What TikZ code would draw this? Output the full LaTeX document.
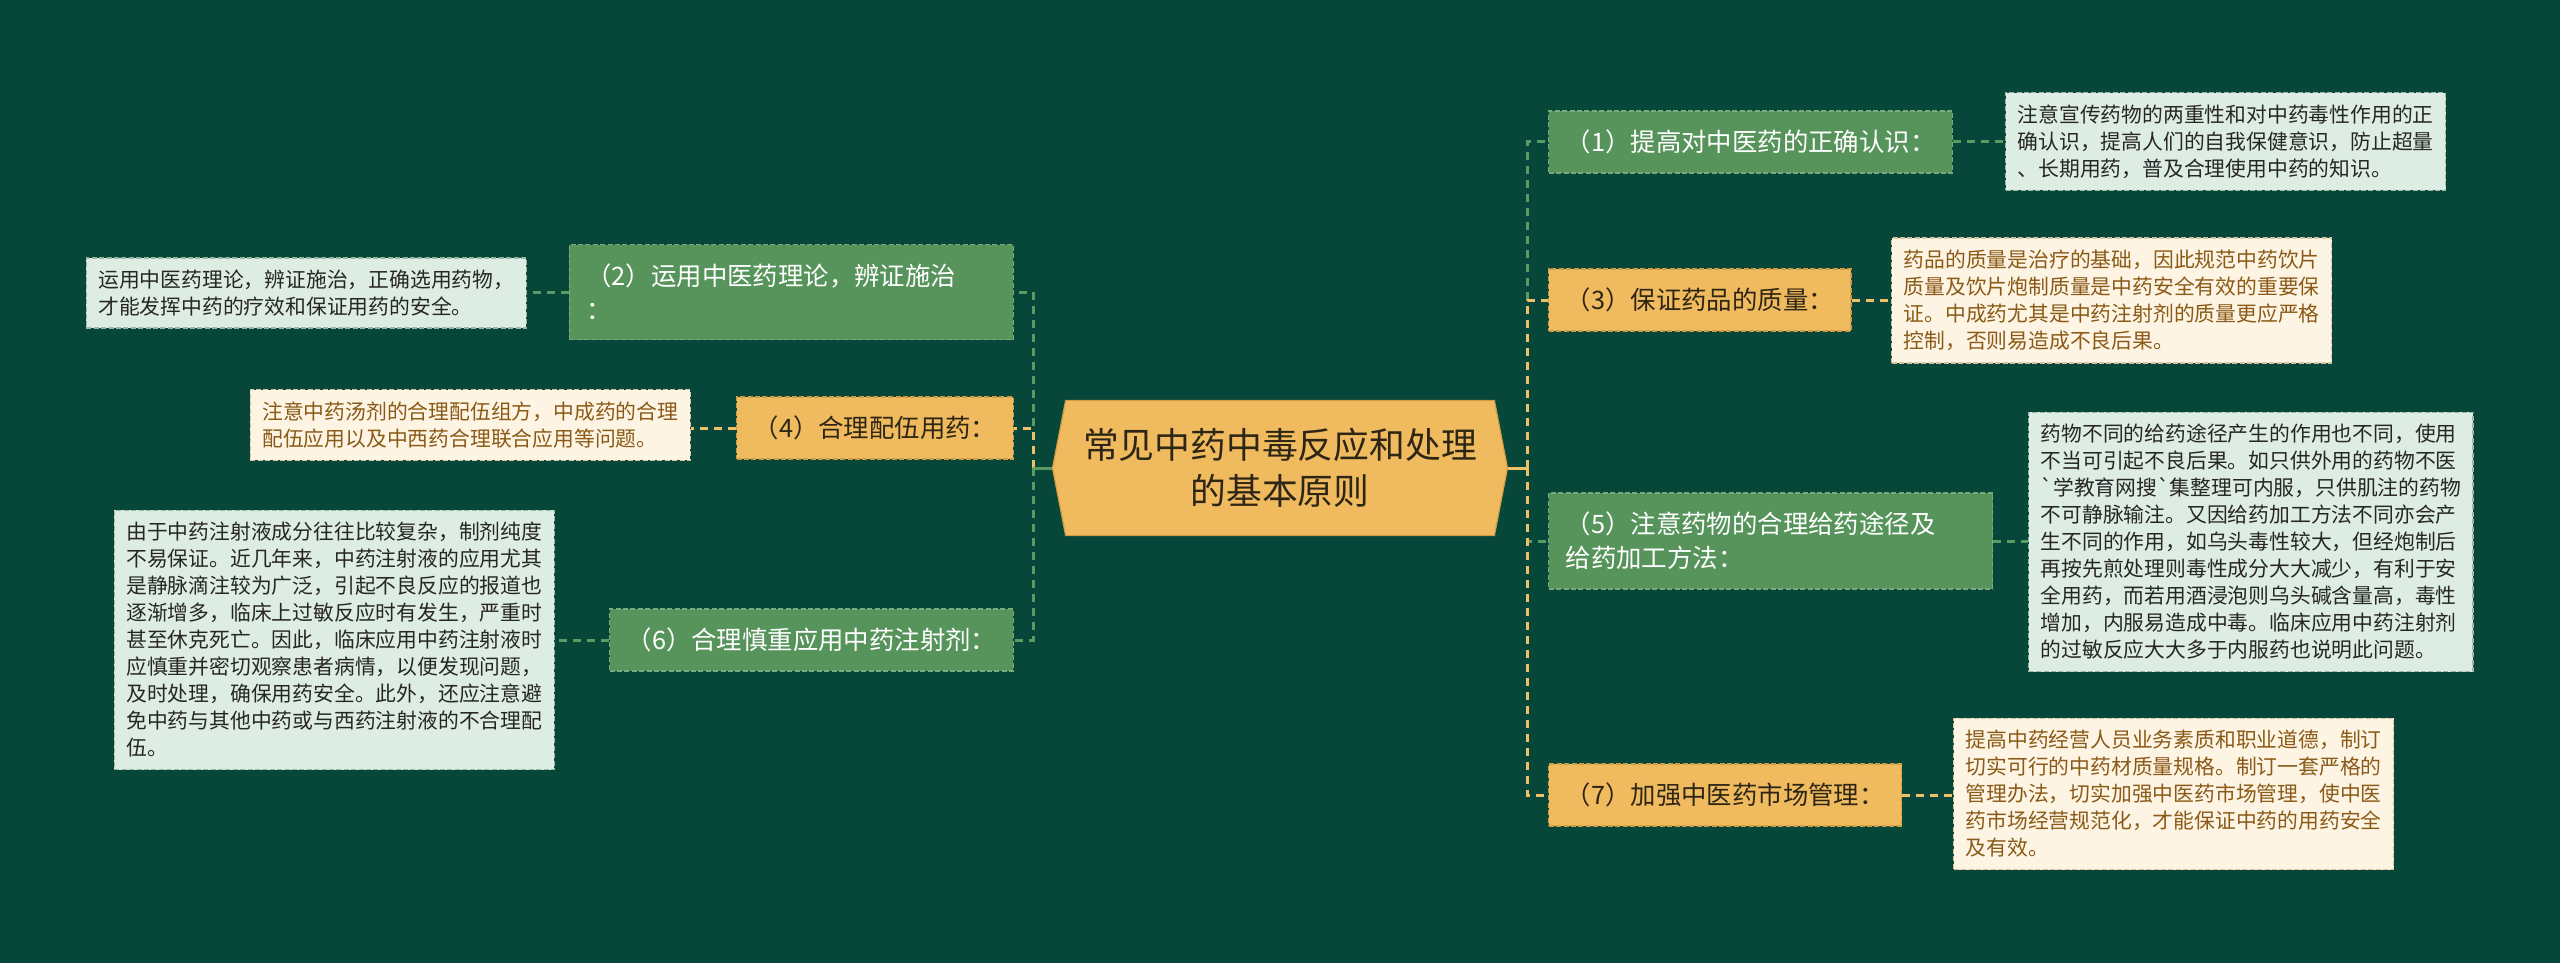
\documentclass[tikz,border=0pt]{standalone}
\usepackage{fontspec}
\newfontfamily\cjk{Noto Sans CJK SC}
\usetikzlibrary{shapes.symbols}
\definecolor{bg}{HTML}{07473A}
\definecolor{gbox}{HTML}{57945B}
\definecolor{gboxline}{HTML}{78AA7C}
\definecolor{ybox}{HTML}{F0BA5F}
\definecolor{yboxline}{HTML}{D09C46}
\definecolor{ybtext}{HTML}{2E2614}
\definecolor{gdet}{HTML}{DEEDE3}
\definecolor{gdetline}{HTML}{9DB5A5}
\definecolor{ydet}{HTML}{FDF4E4}
\definecolor{ydetline}{HTML}{D6C3A0}
\definecolor{ytext}{HTML}{8A5A16}
\definecolor{dtext}{HTML}{262626}
\definecolor{gline}{HTML}{5A9A63}
\definecolor{yline}{HTML}{EEC06A}
\begin{document}
\begin{tikzpicture}[x=0.5pt,y=-0.5pt,
  box/.style={font=\cjk\fontsize{12.7}{17}\selectfont, inner xsep=8.5pt, inner ysep=0pt,
    minimum height=31pt, align=left, line width=0.7pt, dash pattern=on 2.5pt off 1.2pt},
  gboxs/.style={box, fill=gbox, draw=gboxline, text=white},
  yboxs/.style={box, fill=ybox, draw=yboxline, text=ybtext},
  det/.style={font=\cjk\fontsize{10.4}{13.5}\selectfont, inner xsep=6pt, inner ysep=6pt,
    align=left, line width=0.7pt, dash pattern=on 2.5pt off 1.2pt},
  gdets/.style={det, fill=gdet, draw=gdetline, text=dtext},
  ydets/.style={det, fill=ydet, draw=ydetline, text=ytext},
  conn/.style={line width=1.5pt, dash pattern=on 4pt off 3pt},
  gconn/.style={conn, draw=gline},
  yconn/.style={conn, draw=yline},
  gstub/.style={line width=1.5pt, draw=gline},
  ystub/.style={line width=1.5pt, draw=yline}
]
\useasboundingbox (0,0) rectangle (2560,963);
\fill[bg] (0,0) rectangle (2560,963);

% center
\node[shape=signal, signal to=west and east, signal pointer angle=158, fill=ybox, draw=yboxline,
  line width=0.6pt, minimum width=227.5pt, minimum height=67.5pt, inner sep=0pt,
  font=\cjk\fontsize{17.9}{22.9}\selectfont, align=center, text=ybtext] (c) at (1280,468)
  {常见中药中毒反应和处理\\的基本原则};

\coordinate (tr) at (1527,468);
\coordinate (tl) at (1033,468);

% right branches
\node[gboxs, anchor=west] (b1) at (1548,142) {（1）提高对中医药的正确认识：};
\node[yboxs, anchor=west] (b3) at (1548,300) {（3）保证药品的质量：};
\node[gboxs, anchor=west, text width=205pt, minimum height=48pt] (b5) at (1548,541)
  {（5）注意药物的合理给药途径及\\给药加工方法：};
\node[yboxs, anchor=west] (b7) at (1548,795) {（7）加强中医药市场管理：};

% left branches
\node[gboxs, anchor=east, text width=205pt, minimum height=47.5pt] (b2) at (1014,292)
  {（2）运用中医药理论，辨证施治\\：};
\node[yboxs, anchor=east] (b4) at (1014,428) {（4）合理配伍用药：};
\node[gboxs, anchor=east] (b6) at (1014,640) {（6）合理慎重应用中药注射剂：};

% details
\node[gdets, anchor=west] (d1) at (2005,141.5)
  {注意宣传药物的两重性和对中药毒性作用的正\\确认识，提高人们的自我保健意识，防止超量\\、长期用药，普及合理使用中药的知识。};
\node[ydets, anchor=west] (d3) at (1891,300.5)
  {药品的质量是治疗的基础，因此规范中药饮片\\质量及饮片炮制质量是中药安全有效的重要保\\证。中成药尤其是中药注射剂的质量更应严格\\控制，否则易造成不良后果。};
\node[gdets, anchor=west] (d5) at (2028,542)
  {药物不同的给药途径产生的作用也不同，使用\\不当可引起不良后果。如只供外用的药物不医\\`学教育网搜`集整理可内服，只供肌注的药物\\不可静脉输注。又因给药加工方法不同亦会产\\生不同的作用，如乌头毒性较大，但经炮制后\\再按先煎处理则毒性成分大大减少，有利于安\\全用药，而若用酒浸泡则乌头碱含量高，毒性\\增加，内服易造成中毒。临床应用中药注射剂\\的过敏反应大大多于内服药也说明此问题。};
\node[ydets, anchor=west] (d7) at (1953,794)
  {提高中药经营人员业务素质和职业道德，制订\\切实可行的中药材质量规格。制订一套严格的\\管理办法，切实加强中医药市场管理，使中医\\药市场经营规范化，才能保证中药的用药安全\\及有效。};
\node[gdets, anchor=east] (d2) at (527,293)
  {运用中医药理论，辨证施治，正确选用药物，\\才能发挥中药的疗效和保证用药的安全。};
\node[ydets, anchor=east] (d4) at (691,425)
  {注意中药汤剂的合理配伍组方，中成药的合理\\配伍应用以及中西药合理联合应用等问题。};
\node[gdets, anchor=east] (d6) at (555,640)
  {由于中药注射液成分往往比较复杂，制剂纯度\\不易保证。近几年来，中药注射液的应用尤其\\是静脉滴注较为广泛，引起不良反应的报道也\\逐渐增多，临床上过敏反应时有发生，严重时\\甚至休克死亡。因此，临床应用中药注射液时\\应慎重并密切观察患者病情，以便发现问题，\\及时处理，确保用药安全。此外，还应注意避\\免中药与其他中药或与西药注射液的不合理配\\伍。};

% trunk connectors
\draw[gconn] (tr) |- (b1.west);
\draw[yconn] (tr) |- (b3.west);
\draw[gconn] (tr) |- (b5.west);
\draw[yconn] (tr) |- (b7.west);
\draw[ystub] (c.east) -- (tr);
\draw[gconn] (tl) |- (b2.east);
\draw[yconn] (tl) |- (b4.east);
\draw[gconn] (tl) |- (b6.east);
\draw[gstub] (c.west) -- (tl);

% detail connectors
\draw[gconn] (b1.east) -- (b1.east -| d1.west);
\draw[yconn] (b3.east) -- (b3.east -| d3.west);
\draw[gconn] (b5.east) -- (b5.east -| d5.west);
\draw[yconn] (b7.east) -- (b7.east -| d7.west);
\draw[gconn] (b2.west) -- (b2.west -| d2.east);
\draw[yconn] (b4.west) -- (b4.west -| d4.east);
\draw[gconn] (b6.west) -- (b6.west -| d6.east);
\end{tikzpicture}
\end{document}
